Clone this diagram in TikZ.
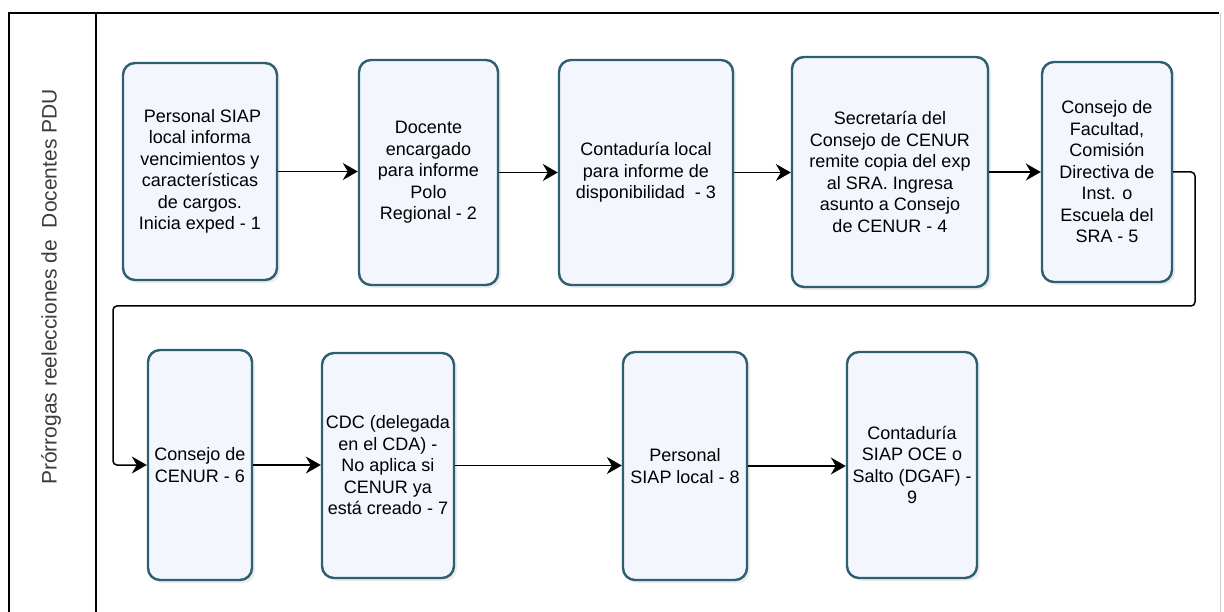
\documentclass[tikz,border=0pt]{standalone}
\usepackage{fontspec}
\setmainfont{Liberation Sans}
\usetikzlibrary{arrows.meta,shadows}
\definecolor{boxedge}{RGB}{45,95,112}
\definecolor{boxfill}{RGB}{243,246,252}
\definecolor{labelgray}{RGB}{60,60,60}
\begin{document}
\begin{tikzpicture}[x=1pt,y=-1pt,
  procbox/.style={draw=boxedge, line width=2.4pt, rounded corners=12pt,
    fill=boxfill, align=center, inner sep=2pt,
    font=\fontsize{18}{21.5}\selectfont,
    drop shadow={shadow xshift=3pt, shadow yshift=-3pt, fill=black!12, opacity=0.6}},
  flow/.style={line width=1.5pt, -{Stealth[length=15pt,width=17pt,inset=5pt]}},
  frame/.style={line width=1.3pt, draw=black}]
\useasboundingbox (0,0) rectangle (1224,612);
\fill[white] (0,0) rectangle (1224,612);
% pool frame
\draw[frame] (9,625) -- (9,13) -- (1219,13);
\draw[line width=1pt, draw=gray!40] (1220,13) -- (1220,625);
\draw[frame] (96,13) -- (96,625);
\node[rotate=90, font=\fontsize{21}{24}\selectfont, text=labelgray] (lane) at (51,287)
  {Prórrogas reelecciones de\ \ Docentes PDU};
% boxes
\node[procbox, minimum width=154pt, minimum height=217pt] (b1) at (200,171.5)
  {\ Personal SIAP\\local informa\\vencimientos y\\características\\de cargos.\\Inicia exped - 1};
\node[procbox, minimum width=139pt, minimum height=225pt] (b2) at (428.5,172.5)
  {Docente\\encargado\\para informe\\Polo\\Regional - 2};
\node[procbox, minimum width=174pt, minimum height=225pt] (b3) at (646,172.5)
  {Contaduría local\\para informe de\\disponibilidad\ \ - 3};
\node[procbox, minimum width=196pt, minimum height=230pt] (b4) at (890,172)
  {Secretaría del\\Consejo de CENUR\\remite copia del exp\\al SRA. Ingresa\\asunto a Consejo\\de CENUR - 4};
\node[procbox, minimum width=130pt, minimum height=220pt] (b5) at (1107,172)
  {Consejo de\\Facultad,\\Comisión\\Directiva de\\Inst. o\\Escuela del\\SRA - 5};
\node[procbox, minimum width=104pt, minimum height=230pt] (b6) at (200,465)
  {Consejo de\\CENUR - 6};
\node[procbox, minimum width=132pt, minimum height=225pt] (b7) at (388,465.5)
  {CDC (delegada\\en el CDA) -\\No aplica si\\CENUR ya\\está creado - 7};
\node[procbox, minimum width=124pt, minimum height=228pt] (b8) at (685,466)
  {Personal\\SIAP local - 8};
\node[procbox, minimum width=130pt, minimum height=226pt] (b9) at (912,465)
  {Contaduría\\SIAP OCE o\\Salto (DGAF) -\\9};
% connectors
\draw[flow] (b1.east) -- (b1.east -| b2.west);
\draw[flow] (b2.east) -- (b2.east -| b3.west);
\draw[flow] (b3.east) -- (b3.east -| b4.west);
\draw[flow] (b4.east) -- (b4.east -| b5.west);
\coordinate (r1) at (1195,172);
\coordinate (r2) at (1195,306);
\coordinate (l1) at (113,306);
\draw[flow, rounded corners=4pt] (b5.east) -- (r1) -- (r2) -- (l1) -- (l1 |- b6.west) -- (b6.west);
\draw[flow] (b6.east) -- (b6.east -| b7.west);
\draw[flow] (b7.east) -- (b7.east -| b8.west);
\draw[flow] (b8.east) -- (b8.east -| b9.west);
\end{tikzpicture}
\end{document}
